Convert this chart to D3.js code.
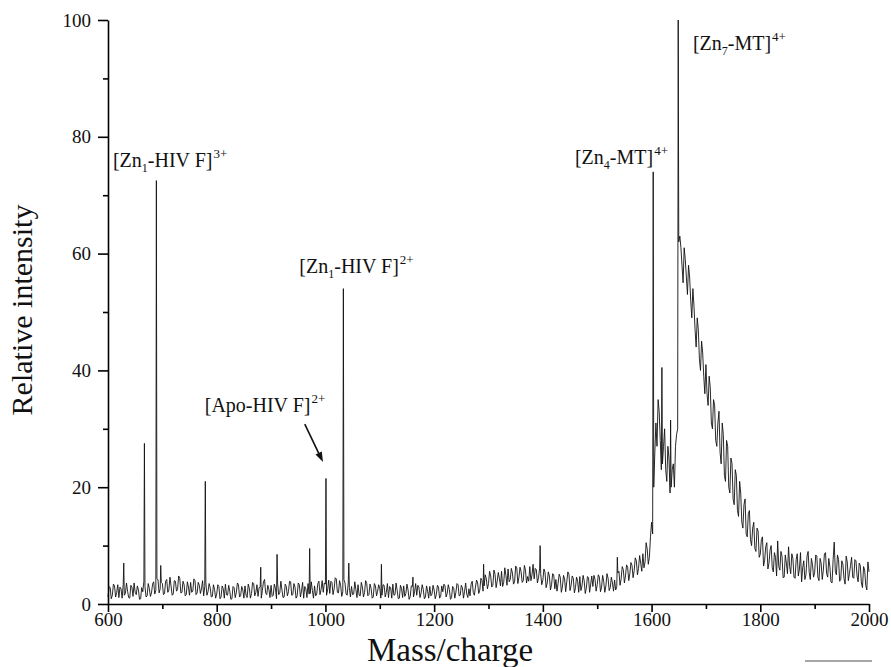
<!DOCTYPE html>
<html>
<head>
<meta charset="utf-8">
<script src="https://cdn.jsdelivr.net/npm/d3@7"></script>
<style>
  body { margin: 0; background: #fff; }
  svg { display: block; }
</style>
</head>
<body>
<div id="chart"></div>
<script>
// spectrum: values every 4 m/z, plus the in-between
// readings (start + 2) so the noise is as dense as in the scan
var mzStep = 4;

// 600 - 1296
var lowStart = 600;
var lowMass = [
  1.2, 2.8, 1.5, 3.1, 2.0, 1.1, 2.6, 3.4, 1.8, 2.2, 1.0, 2.9, 3.6, 1.6, 2.4, 0.9, 2.1, 3.0, 1.4, 2.7, 1.9, 3.8, 2.3, 4.1, 2.6,
  3.5, 1.8, 4.2, 2.4, 3.1, 1.7, 3.9, 2.5, 4.4, 2.0, 3.3, 1.6, 2.9, 3.7, 2.2, 4.0, 1.9, 3.2, 2.6, 1.4, 3.6, 2.1, 2.8, 1.3, 2.5,
  1.7, 3.0, 1.2, 2.6, 3.4, 1.5, 2.2, 0.9, 2.8, 1.9, 3.3, 1.4, 2.4, 3.1, 1.1, 2.7, 1.8, 3.5, 2.0, 1.3, 2.9, 2.3, 4.2, 1.6, 2.5,
  3.2, 1.5, 2.7, 3.6, 1.9, 2.4, 1.2, 3.0, 2.1, 3.8, 1.6, 2.9, 1.4, 3.3, 2.2, 1.0, 2.6, 3.5, 1.8, 2.3, 3.1, 1.7, 3.9, 2.5, 2.0,
  3.4, 2.4, 1.8, 3.7, 2.6, 4.3, 1.9, 3.2, 2.1, 3.6, 1.5, 2.8, 3.0, 1.7, 2.5, 3.3, 1.4, 2.9, 2.0, 3.5, 1.6, 2.7, 1.2, 3.1, 2.2,
  2.6, 1.5, 3.2, 2.0, 1.1, 2.8, 3.4, 1.6, 2.3, 1.0, 2.7, 3.1, 1.8, 2.4, 1.3, 3.0, 2.1, 1.5, 2.9, 1.9, 2.5, 1.2, 2.2, 3.0, 1.7,
  2.4, 1.6, 2.9, 1.3, 2.1, 3.1, 1.8, 2.5, 1.1, 2.7, 2.0, 3.3, 1.5, 2.8, 2.2, 1.7, 2.6, 3.4, 2.0, 2.9, 3.6, 2.4, 4.0, 3.1, 4.3
];
// 602 - 1298
var lowMassMid = [
  3.0, 0.9, 3.4, 1.2, 3.3, 2.9, 1.0, 1.5, 3.6, 1.1, 3.2, 1.3, 2.0, 3.1, 0.8, 2.8, 3.9, 1.2, 3.5, 1.3, 3.4, 1.7, 4.4, 1.9, 3.7,
  1.6, 3.9, 2.0, 4.6, 1.5, 4.0, 2.2, 4.8, 1.9, 3.9, 1.4, 3.8, 1.5, 2.0, 4.3, 1.6, 3.7, 1.8, 4.0, 3.0, 1.5, 3.5, 1.2, 3.3, 1.0,
  3.3, 0.9, 3.1, 1.0, 1.6, 3.2, 0.8, 3.0, 1.1, 3.6, 1.2, 3.0, 1.0, 1.5, 3.4, 1.0, 3.7, 1.4, 3.3, 2.8, 1.0, 3.8, 1.9, 3.2, 1.1,
  1.3, 3.4, 0.9, 1.6, 3.9, 1.1, 3.4, 1.4, 3.9, 1.5, 3.5, 1.0, 3.6, 1.2, 3.7, 3.0, 1.1, 1.7, 3.8, 1.0, 1.4, 3.5, 1.6, 4.0, 3.6,
  1.5, 4.1, 3.9, 1.6, 4.5, 2.0, 4.0, 1.3, 4.2, 1.7, 3.6, 1.2, 1.6, 3.8, 1.1, 1.5, 3.7, 1.2, 4.0, 1.4, 3.4, 1.0, 3.5, 1.4, 3.3,
  1.0, 3.3, 1.2, 3.5, 3.0, 1.0, 1.5, 3.6, 0.9, 3.2, 1.1, 1.3, 3.4, 0.8, 3.1, 1.2, 3.5, 3.2, 1.1, 3.3, 0.9, 3.1, 1.0, 1.4, 3.2,
  0.9, 3.2, 1.0, 3.1, 3.4, 1.2, 3.3, 0.8, 3.0, 1.0, 3.5, 1.4, 3.2, 1.0, 3.6, 1.1, 1.4, 3.9, 1.5, 4.1, 1.8, 4.4, 2.2, 5.0, 2.6
];

// 1300 - 1596, the broad hump before the MT peaks
var humpStart = 1300;
var humpMass = [
  3.5, 4.8, 3.2, 5.1, 3.9, 4.4, 5.6, 3.7, 4.9, 6.0, 4.2, 5.3, 3.8, 6.2, 4.6, 5.5, 4.0, 5.8, 4.7, 6.4, 5.0, 4.3, 5.9, 4.5, 5.2,
  4.1, 5.4, 3.6, 4.8, 3.3, 5.0, 4.2, 3.5, 4.6, 2.9, 4.3, 3.8, 5.1, 3.2, 4.4, 2.8, 3.9, 4.7, 3.1, 4.0, 2.7, 4.5, 3.4, 3.0, 4.2,
  3.3, 4.6, 2.9, 3.8, 3.1, 4.4, 2.8, 3.6, 4.1, 3.0, 5.6, 4.3, 5.9, 4.8, 6.3, 5.2, 6.6, 5.7, 7.4, 6.1, 7.0, 8.6, 7.2, 9.4, 8.0
];
// 1302 - 1598
var humpMassMid = [
  5.6, 2.9, 5.8, 2.8, 5.4, 3.1, 3.0, 6.2, 3.2, 3.8, 6.1, 3.4, 6.5, 3.5, 6.3, 3.7, 6.6, 3.6, 3.9, 4.0, 6.8, 6.1, 3.6, 6.0, 3.3,
  6.0, 2.8, 5.5, 2.4, 5.2, 2.6, 2.2, 5.1, 2.0, 4.9, 2.1, 5.5, 2.3, 4.8, 1.9, 4.6, 2.0, 2.3, 4.9, 1.8, 4.7, 2.0, 4.8, 4.9, 2.2,
  5.0, 2.1, 4.9, 2.0, 5.2, 2.3, 4.6, 2.2, 2.4, 5.3, 3.2, 6.4, 3.6, 6.7, 4.0, 7.1, 4.5, 7.9, 5.0, 8.3, 5.6, 6.2, 10.5, 6.8, 11.5
];

// 1600 - 2000, metallothionein envelope
var mtStart = 1600;
var mtMass = [
  14, 20, 31, 35, 28, 24, 30, 21, 25, 20, 24, 27, 30, 63, 58, 61, 56, 58, 52, 54, 47, 49, 42, 45, 39,
  41, 34, 37, 30, 34, 27, 33, 24, 29, 21, 27, 19, 24, 17, 22, 15, 19, 13, 18, 11.5, 16, 10, 14, 9, 12.5,
  8.5, 11.5, 7.5, 10.5, 7, 10, 5.5, 8, 10.8, 5.8, 8.2, 4.6, 7, 9.8, 5.2, 7.8, 4.4, 8.6, 6, 3.8, 7.4, 5, 9, 4.2, 6.8,
  5.4, 8.2, 4, 7, 5.8, 8.8, 4.6, 6.4, 3.6, 10.6, 5, 7.6, 4.2, 6.8, 3.4, 7.2, 5.2, 8, 4.4, 7.4, 3.8, 6.6, 2.8, 5.8, 2.4, 5.5
];
// 1602 - 1998
var mtMassMid = [
  12, 26, 27, 33, 23, 27, 23, 27, 19, 23, 20, 29, 62, 61, 55, 59, 53, 56, 49, 51, 44, 47, 40, 43, 36,
  36, 39, 31, 35, 28, 31, 26, 31, 22, 28, 20, 25, 18, 23, 16, 21, 14, 17, 12, 15.5, 11, 13, 9.5, 13, 8,
  11, 6.5, 9.8, 6, 9.2, 6.2, 8.8, 4.8, 6.4, 9, 4.5, 8.4, 5.2, 6.4, 8.6, 4.6, 7.6, 4.8, 8.8, 6.2, 4.2, 8.2, 5.4, 7.8, 4.6,
  8.4, 4.6, 7.8, 4.2, 8.6, 5.2, 7.8, 3.8, 7.6, 5.6, 8.4, 3.9, 7.4, 4.4, 8.2, 4.0, 6.6, 4.6, 7.6, 4.8, 7.0, 3.6, 6.4, 3.2, 7.2
];

// narrow spikes
var spikeMz =        [629, 667, 689, 697, 779, 881, 911, 971, 1001, 1033, 1043, 1103, 1161, 1291, 1395, 1537, 1603, 1619, 1635, 1649];
var spikeIntensity = [7,   27.5, 72.5, 6.6, 21, 6.3, 8.5, 9.5, 21.5, 54,  7,    6.8,  4.6,  6.8,  10,   8,    74,   40.5, 31.5, 100];

var xTicks = [600, 800, 1000, 1200, 1400, 1600, 1800, 2000];
var xMinor = [700, 900, 1100, 1300, 1500, 1700, 1900];
var yTicks = [0, 20, 40, 60, 80, 100];
var yMinor = [10, 30, 50, 70, 90];

// peak labels, anchored (left, baseline) in data coords
var peakLabels = [
  {pre: "[Zn", sub: "1", post: "-HIV F]", sup: "3+", mz: 609, at: 74.8},
  {pre: "[Zn", sub: "1", post: "-HIV F]", sup: "2+", mz: 952, at: 56.7},
  {pre: "[Apo-HIV F]", sub: "", post: "", sup: "2+", mz: 778, at: 32.9},
  {pre: "[Zn", sub: "4", post: "-MT]", sup: "4+", mz: 1459, at: 75.3},
  {pre: "[Zn", sub: "7", post: "-MT]", sup: "4+", mz: 1676, at: 94.9}
];
// arrow to the apo peak, tail and tip
var arrowFrom = [962, 30.8], arrowTo = [995.5, 24.3];

var W = 891, H = 667;
var margin = {top: 20, right: 22, bottom: 63, left: 108};
var width = W - margin.left - margin.right,
    height = H - margin.top - margin.bottom;

var spectrum = [];
function addRun(vals, start) {
    vals.forEach(function(v, i) { spectrum.push({mz: start + i * mzStep, v: v}); });
}
addRun(lowMass, lowStart);
addRun(lowMassMid, lowStart + 2);
addRun(humpMass, humpStart);
addRun(humpMassMid, humpStart + 2);
addRun(mtMass, mtStart);
addRun(mtMassMid, mtStart + 2);
spikeMz.forEach(function(m, i) { spectrum.push({mz: m, v: spikeIntensity[i]}); });
spectrum.sort(function(a, b) { return a.mz - b.mz; });

var svg = d3.select("#chart").append("svg")
    .attr("width", W)
    .attr("height", H);

var g = svg.append("g")
    .attr("transform", "translate(" + margin.left + "," + margin.top + ")");

var x = d3.scaleLinear().domain([600, 2000]).range([0, width]);
var y = d3.scaleLinear().domain([0, 100]).range([height, 0]);

var font = "'Liberation Serif', 'Times New Roman', serif";

// the trace
var line = d3.line()
    .x(function(d) { return x(d.mz); })
    .y(function(d) { return y(d.v); });

g.append("path")
    .datum(spectrum)
    .attr("d", line)
    .attr("fill", "none")
    .attr("stroke", "#111")
    .attr("stroke-width", 0.9);

// axes
g.append("g")
    .attr("transform", "translate(0," + height + ")")
    .call(d3.axisBottom(x).tickValues(xTicks).tickFormat(d3.format("d"))
        .tickSize(8).tickSizeOuter(0).tickPadding(1));
g.append("g")
    .attr("transform", "translate(0," + height + ")")
    .call(d3.axisBottom(x).tickValues(xMinor).tickFormat("").tickSize(5).tickSizeOuter(0))
    .select(".domain").remove();

g.append("g")
    .call(d3.axisLeft(y).tickValues(yTicks).tickSize(10).tickSizeOuter(0).tickPadding(7));
g.append("g")
    .call(d3.axisLeft(y).tickValues(yMinor).tickFormat("").tickSize(5).tickSizeOuter(0))
    .select(".domain").remove();

g.selectAll(".domain, .tick line")
    .attr("stroke", "#000")
    .attr("stroke-width", 1.6);
g.selectAll(".tick text")
    .attr("fill", "#111")
    .style("font-family", font)
    .style("font-size", "19px");

// axis titles
svg.append("text")
    .attr("x", 450)
    .attr("y", 661)
    .attr("text-anchor", "middle")
    .style("font-family", font)
    .style("font-size", "33px")
    .attr("fill", "#111")
    .text("Mass/charge");

svg.append("text")
    .attr("transform", "translate(32,310) rotate(-90)")
    .attr("text-anchor", "middle")
    .style("font-family", font)
    .style("font-size", "30px")
    .attr("fill", "#111")
    .text("Relative intensity");

// peak labels
peakLabels.forEach(function(p) {
    var t = g.append("text")
        .attr("x", x(p.mz))
        .attr("y", y(p.at))
        .style("font-family", font)
        .style("font-size", "20px")
        .attr("fill", "#111");
    t.append("tspan").text(p.pre);
    if (p.sub) {
        t.append("tspan").attr("dy", 5).style("font-size", "12px").text(p.sub);
        t.append("tspan").attr("dy", -5).text(p.post);
    }
    t.append("tspan").attr("dy", -9).attr("dx", 1).style("font-size", "13px").text(p.sup);
});

// arrow
var ax0 = x(arrowFrom[0]), ay0 = y(arrowFrom[1]),
    ax1 = x(arrowTo[0]), ay1 = y(arrowTo[1]);
var ang = Math.atan2(ay1 - ay0, ax1 - ax0);
var headLen = 10, headW = 3.5;
var bx = ax1 - headLen * Math.cos(ang), by = ay1 - headLen * Math.sin(ang);
g.append("line")
    .attr("x1", ax0).attr("y1", ay0)
    .attr("x2", bx).attr("y2", by)
    .attr("stroke", "#111")
    .attr("stroke-width", 1.6);
g.append("path")
    .attr("d", "M" + ax1 + "," + ay1 +
        "L" + (bx + headW * Math.sin(ang)) + "," + (by - headW * Math.cos(ang)) +
        "L" + (bx - headW * Math.sin(ang)) + "," + (by + headW * Math.cos(ang)) + "Z")
    .attr("fill", "#111");

// scan mark at the bottom right of the original figure
svg.append("line")
    .attr("x1", 805).attr("y1", 661)
    .attr("x2", 872).attr("y2", 661)
    .attr("stroke", "#888")
    .attr("stroke-width", 1.5);
</script>
</body>
</html>
